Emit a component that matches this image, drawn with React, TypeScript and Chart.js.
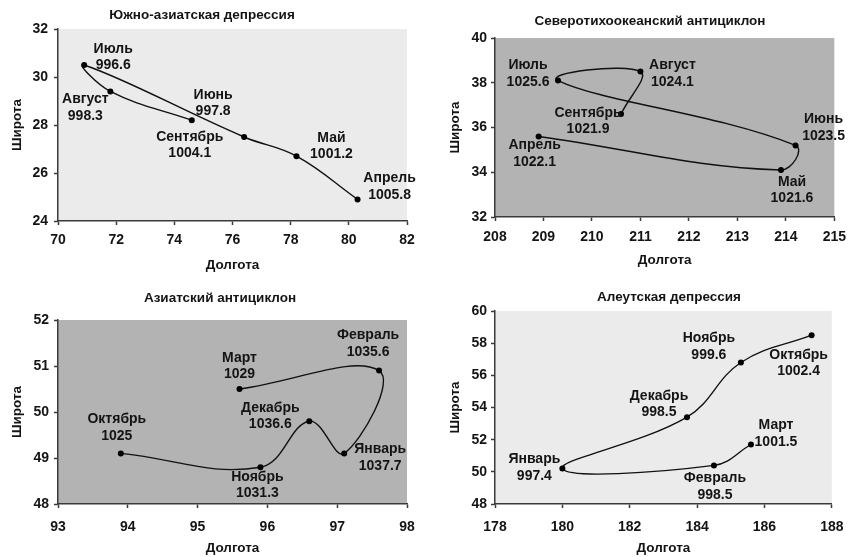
import React, { useEffect, useRef } from "react";
import { Chart, registerables } from "chart.js";

Chart.register(...registerables);

// ---------- Data ----------
// 1. Южно-азиатская депрессия
const sa_months = ["Апрель", "Май", "Июнь", "Июль", "Август", "Сентябрь"];
const sa_lon = [80.3, 78.2, 76.4, 70.9, 71.8, 74.6];
const sa_lat = [24.9, 26.7, 27.5, 30.5, 29.4, 28.2];
const sa_pres = [1005.8, 1001.2, 997.8, 996.6, 998.3, 1004.1];

// 2. Северотихоокеанский антициклон
const np_months = ["Апрель", "Май", "Июнь", "Июль", "Август", "Сентябрь"];
const np_lon = [208.9, 213.9, 214.2, 209.3, 211.0, 210.6];
const np_lat = [35.6, 34.1, 35.2, 38.1, 38.5, 36.6];
const np_pres = [1022.1, 1021.6, 1023.5, 1025.6, 1024.1, 1021.9];

// 3. Азиатский антициклон
const as_months = ["Октябрь", "Ноябрь", "Декабрь", "Январь", "Февраль", "Март"];
const as_lon = [93.9, 95.9, 96.6, 97.1, 97.6, 95.6];
const as_lat = [49.1, 48.8, 49.8, 49.1, 50.9, 50.5];
const as_pres = [1025, 1031.3, 1036.6, 1037.7, 1035.6, 1029];

// 4. Алеутская депрессия
const al_months = ["Октябрь", "Ноябрь", "Декабрь", "Январь", "Февраль", "Март"];
const al_lon = [187.4, 185.3, 183.7, 180.0, 184.5, 185.6];
const al_lat = [58.5, 56.8, 53.4, 50.2, 50.4, 51.7];
const al_pres = [1002.4, 999.6, 998.5, 997.4, 998.5, 1001.5];

const xAxisTitle = "Долгота";
const yAxisTitle = "Широта";

// ---------- Styling / layout ----------
const FONT = "'Liberation Sans', Arial, Helvetica, sans-serif";
const TEXT = "#141414";
const AXIS = "#3a3a3a";
const TICK_SIZE = 14;
const LABEL_SIZE = 14;
const TITLE_SIZE = 13.5;
const AXIS_TITLE_SIZE = 13.5;

type Panel = {
  title: string;
  months: string[];
  lon: number[];
  lat: number[];
  pres: number[];
  xMin: number; xMax: number; xStep: number;
  yMin: number; yMax: number; yStep: number;
  bg: string;
  cell: { left: number; top: number; width: number; height: number };
  plot: { left: number; top: number; right: number; bottom: number };
  titlePos: { x: number; y: number };
  yTitleX: number;
  xTitleY: number;
  xTickPad: number;
  yTickPad: number;
  labelOffsets: [number, number][];
};

const panels: Panel[] = [
  {
    title: "Южно-азиатская депрессия",
    months: sa_months, lon: sa_lon, lat: sa_lat, pres: sa_pres,
    xMin: 70, xMax: 82, xStep: 2, yMin: 24, yMax: 32, yStep: 2,
    bg: "#ebebeb",
    cell: { left: 0, top: 0, width: 427, height: 278 },
    plot: { left: 58, top: 29, right: 407, bottom: 221 },
    titlePos: { x: 202, y: 15 },
    yTitleX: 17, xTitleY: 265, xTickPad: 7, yTickPad: 6,
    labelOffsets: [[32, -13], [35, -10], [-31, -34], [29, -8], [-25, 16], [-2, 25]],
  },
  {
    title: "Северотихоокеанский антициклон",
    months: np_months, lon: np_lon, lat: np_lat, pres: np_pres,
    xMin: 208, xMax: 215, xStep: 1, yMin: 32, yMax: 40, yStep: 2,
    bg: "#b3b3b3",
    cell: { left: 427, top: 0, width: 427, height: 278 },
    plot: { left: 68, top: 38, right: 413, bottom: 217 },
    titlePos: { x: 223, y: 21 },
    yTitleX: 28, xTitleY: 260, xTickPad: 8, yTickPad: 4,
    labelOffsets: [[-4, 17], [11, 20], [28, -18], [-30, -7], [32, 2], [-33, 7]],
  },
  {
    title: "Азиатский антициклон",
    months: as_months, lon: as_lon, lat: as_lat, pres: as_pres,
    xMin: 93, xMax: 98, xStep: 1, yMin: 48, yMax: 52, yStep: 1,
    bg: "#b3b3b3",
    cell: { left: 0, top: 278, width: 427, height: 279 },
    plot: { left: 58, top: 42, right: 407, bottom: 226 },
    titlePos: { x: 220, y: 20 },
    yTitleX: 17, xTitleY: 270, xTickPad: 10.5, yTickPad: 5,
    labelOffsets: [[-4, -26], [-3, 18], [-39, -5], [36, 4], [-11, -27], [0, -23]],
  },
  {
    title: "Алеутская депрессия",
    months: al_months, lon: al_lon, lat: al_lat, pres: al_pres,
    xMin: 178, xMax: 188, xStep: 2, yMin: 48, yMax: 60, yStep: 2,
    bg: "#ebebeb",
    cell: { left: 427, top: 278, width: 427, height: 279 },
    plot: { left: 68, top: 33, right: 413, bottom: 226 },
    titlePos: { x: 242, y: 19 },
    yTitleX: 28, xTitleY: 270, xTickPad: 10.5, yTickPad: 4,
    labelOffsets: [[-13, 28], [-32, -16], [-28, -13], [-28, -1], [1, 21], [25, -11]],
  },
];

function ChartPanel({ p }: { p: Panel }) {
  const ref = useRef<HTMLCanvasElement | null>(null);

  useEffect(() => {
    if (!ref.current) return;
    const W = p.cell.width;
    const H = p.cell.height;
    const yScaleWidth = p.plot.left;
    const xScaleHeight = H - p.plot.bottom;

    const bgPlugin = {
      id: "plotBg",
      beforeDraw(chart: any) {
        const { ctx, chartArea: a } = chart;
        ctx.save();
        ctx.fillStyle = p.bg;
        ctx.fillRect(a.left, a.top, a.right - a.left, a.bottom - a.top);
        ctx.restore();
      },
    };

    const textPlugin = {
      id: "texts",
      afterDraw(chart: any) {
        const ctx = chart.ctx;
        ctx.save();
        ctx.fillStyle = TEXT;
        ctx.textAlign = "center";
        ctx.textBaseline = "middle";
        ctx.font = `bold ${TITLE_SIZE}px ${FONT}`;
        ctx.fillText(p.title, p.titlePos.x, p.titlePos.y);
        const meta = chart.getDatasetMeta(0);
        ctx.font = `bold ${LABEL_SIZE}px ${FONT}`;
        meta.data.forEach((el: any, i: number) => {
          const [dx, dy] = p.labelOffsets[i];
          const cx = el.x + dx;
          const cy = el.y + dy;
          ctx.fillText(p.months[i], cx, cy - 8.3);
          ctx.fillText(String(p.pres[i]), cx, cy + 8.3);
        });
        ctx.restore();
      },
    };

    const lineH = AXIS_TITLE_SIZE * 1.2;
    const chart = new Chart(ref.current, {
      type: "scatter",
      data: {
        datasets: [
          {
            data: p.lon.map((x, i) => ({ x, y: p.lat[i] })),
            showLine: true,
            tension: 0.4,
            borderColor: "#111",
            borderWidth: 1.4,
            pointRadius: 3,
            pointBackgroundColor: "#000",
            pointBorderColor: "#000",
            pointBorderWidth: 0,
          },
        ],
      },
      options: {
        animation: false,
        responsive: false,
        devicePixelRatio: 1,
        layout: {
          padding: { left: 0, right: W - p.plot.right, top: p.plot.top, bottom: 0 },
        },
        plugins: {
          legend: { display: false },
          tooltip: { enabled: false },
          title: { display: false },
        },
        scales: {
          x: {
            type: "linear",
            min: p.xMin,
            max: p.xMax,
            afterFit(scale: any) { scale.height = xScaleHeight; },
            ticks: {
              stepSize: p.xStep,
              color: TEXT,
              font: { family: FONT, size: TICK_SIZE, weight: "bold" },
              padding: p.xTickPad,
              maxRotation: 0,
              autoSkip: false,
            },
            grid: {
              display: true,
              drawOnChartArea: false,
              drawTicks: true,
              tickLength: 4,
              tickColor: AXIS,
              tickWidth: 1.5,
            },
            border: { display: true, color: AXIS, width: 1.5 },
            title: {
              display: true,
              text: xAxisTitle,
              color: TEXT,
              font: { family: FONT, size: AXIS_TITLE_SIZE, weight: "bold" },
              padding: { top: 0, bottom: H - p.xTitleY - lineH / 2 },
            },
          },
          y: {
            type: "linear",
            min: p.yMin,
            max: p.yMax,
            afterFit(scale: any) { scale.width = yScaleWidth; },
            ticks: {
              stepSize: p.yStep,
              color: TEXT,
              font: { family: FONT, size: TICK_SIZE, weight: "bold" },
              padding: p.yTickPad,
            },
            grid: {
              display: true,
              drawOnChartArea: false,
              drawTicks: true,
              tickLength: 4,
              tickColor: AXIS,
              tickWidth: 1.5,
            },
            border: { display: true, color: AXIS, width: 1.5 },
            title: {
              display: true,
              text: yAxisTitle,
              color: TEXT,
              font: { family: FONT, size: AXIS_TITLE_SIZE, weight: "bold" },
              padding: { top: p.yTitleX - lineH / 2, bottom: 0 },
            },
          },
        },
      } as any,
      plugins: [bgPlugin, textPlugin],
    });
    return () => chart.destroy();
  }, [p]);

  return (
    <canvas
      ref={ref}
      width={p.cell.width}
      height={p.cell.height}
      style={{
        position: "absolute",
        left: p.cell.left,
        top: p.cell.top,
        width: p.cell.width,
        height: p.cell.height,
      }}
    />
  );
}

export default function App() {
  return (
    <div
      style={{
        position: "absolute",
        left: 0,
        top: 0,
        width: 854,
        height: 557,
        background: "#fff",
        overflow: "hidden",
      }}
    >
      {panels.map((p, i) => (
        <ChartPanel key={i} p={p} />
      ))}
    </div>
  );
}
